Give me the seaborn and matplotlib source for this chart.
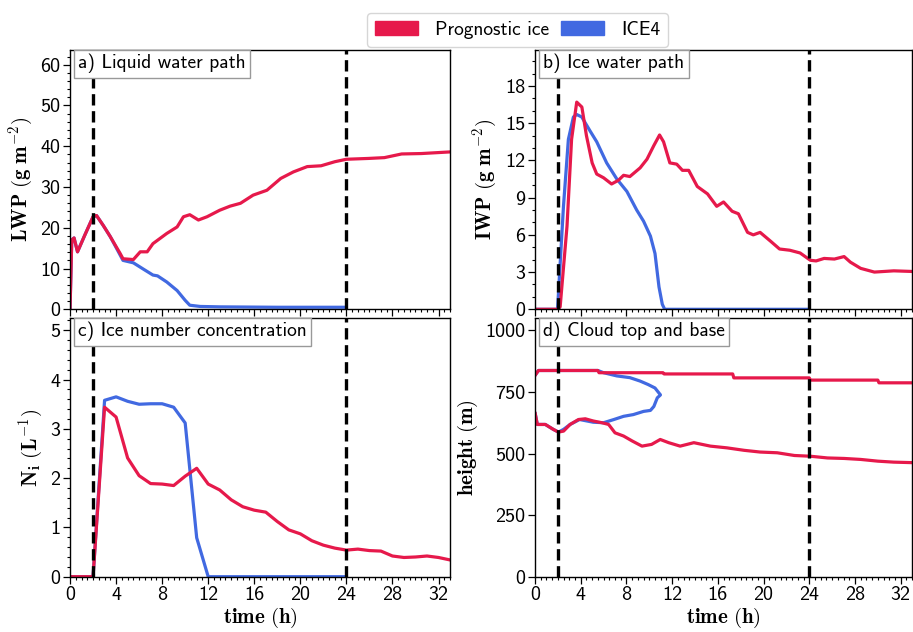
import matplotlib
matplotlib.use("Agg")
import numpy as np
import pandas as pd
import seaborn as sns
import matplotlib.pyplot as plt
from matplotlib.patches import Patch
from matplotlib.ticker import MultipleLocator

# ---------------------------------------------------------------- data
# Liquid water path (g m-2): common spin-up, then the two runs diverge
lwp_spin_t = [0.0, 0.15, 0.35, 0.65, 1.3, 2.0, 2.3, 2.9]
lwp_spin = [0.0, 17.0, 17.5, 14.1, 18.3, 22.7, 23.0, 20.5]
lwp_prog_t = [3.5, 4.35, 4.6, 5.5, 6.1, 6.7, 7.2, 8.4, 9.3, 9.85, 10.4, 11.15,
              11.9, 13.0, 13.9, 14.8, 15.9, 17.1, 18.3, 19.4, 20.6, 21.8, 23.0,
              24.0, 25.9, 27.3, 28.8, 30.5, 33.0]
lwp_prog = [17.8, 13.7, 12.4, 12.2, 14.1, 14.1, 16.1, 18.6, 20.2, 22.7, 23.2, 21.9,
            22.7, 24.3, 25.3, 26.0, 28.0, 29.2, 32.1, 33.7, 35.0, 35.2, 36.2,
            36.8, 37.0, 37.2, 38.1, 38.2, 38.6]
lwp_ice4_t = [3.5, 4.6, 5.5, 6.4, 7.2, 7.6, 8.4, 9.3, 10.0, 10.4, 11.3, 13.0, 18.0, 24.0]
lwp_ice4 = [17.8, 12.0, 11.4, 9.8, 8.4, 8.2, 6.7, 4.6, 2.2, 1.0, 0.7, 0.6, 0.5, 0.5]

# Ice water path (g m-2)
iwp_prog_t = [0, 2.0, 2.2, 2.8, 3.2, 3.65, 4.1, 4.5, 5.0, 5.4, 6.0, 6.7, 7.3, 7.75,
              8.3, 9.2, 9.8, 10.4, 10.9, 11.25, 11.8, 12.4, 12.9, 13.45, 14.2, 15.1,
              15.9, 16.5, 17.25, 17.8, 18.6, 19.1, 19.7, 20.6, 21.4, 22.3, 23.2, 24.1,
              24.6, 25.3, 26.2, 27.05, 27.6, 28.5, 29.7, 31.4, 33.0]
iwp_prog = [0, 0, 0.2, 6.7, 13.7, 16.7, 16.3, 14.0, 11.8, 10.9, 10.6, 10.1, 10.4, 10.8,
            10.7, 11.4, 12.1, 13.2, 14.05, 13.5, 11.8, 11.7, 11.2, 11.2, 9.9, 9.3,
            8.3, 8.65, 7.9, 7.7, 6.2, 6.0, 6.2, 5.5, 4.86, 4.76, 4.54, 3.95,
            3.9, 4.1, 4.05, 4.25, 3.8, 3.3, 3.0, 3.1, 3.05]
iwp_ice4_t = [0, 1.97, 2.49, 2.92, 3.36, 3.65, 4.09, 4.8, 5.4, 6.27, 7.16, 8.04, 8.9,
              9.5, 10.1, 10.5, 10.85, 11.14, 11.35, 24.0]
iwp_ice4 = [0, 0, 8.3, 13.7, 15.5, 15.7, 15.5, 14.4, 13.5, 11.8, 10.5, 9.5, 8.0,
            7.1, 5.9, 4.5, 1.8, 0.4, 0.0, 0.0]

# Ice number concentration (L-1), hourly output
ni_prog_t = list(range(0, 34))
ni_prog = [0, 0, 0, 3.44, 3.24, 2.41, 2.05, 1.89, 1.88, 1.85, 2.04, 2.2, 1.88, 1.76,
           1.56, 1.42, 1.35, 1.31, 1.12, 0.95, 0.87, 0.73, 0.64, 0.58, 0.54, 0.56,
           0.53, 0.52, 0.42, 0.39, 0.40, 0.42, 0.39, 0.34]
ni_ice4_t = list(range(0, 25))
ni_ice4 = [0, 0, 0, 3.58, 3.65, 3.56, 3.50, 3.51, 3.51, 3.44, 3.12, 0.79, 0,
           0, 0, 0, 0, 0, 0, 0, 0, 0, 0, 0, 0]

# Cloud top and base height (m)
top_prog_t = [0, 0.3, 5.5, 5.6, 11.2, 11.3, 17.3, 17.4, 24.0, 24.1, 30.0, 30.1, 33.0]
top_prog = [817, 837, 837, 828, 828, 823, 823, 807, 807, 798, 798, 787, 787]
base_prog_t = [0, 0.2, 0.9, 1.6, 2.05, 2.5, 3.07, 3.8, 4.4, 5.1, 5.85, 6.44, 7.0,
               7.75, 8.5, 9.36, 10.2, 10.96, 11.7, 12.7, 13.9, 15.35,
               16.8, 18.3, 19.7, 21.2, 22.7, 24.1, 25.6, 27.05, 28.5, 30.0,
               31.4, 33.0]
base_prog = [666, 618, 618, 598, 587, 591, 618, 638, 641, 632, 625, 618, 584,
             571, 551, 530, 537, 557, 544, 530, 544, 530,
             523, 513, 506, 503, 492, 489, 482, 480, 476, 469,
             465, 463]
top_ice4_t = [0, 0.3, 5.5, 6.0, 7.16, 8.3, 9.2, 9.9, 10.5, 10.96]
top_ice4 = [817, 837, 837, 828, 815, 808, 794, 780, 766, 739]
base_ice4_t = [0, 0.2, 0.9, 1.6, 2.05, 2.5, 3.07, 3.9, 5.1, 6.0, 6.9, 7.75, 8.6,
               9.5, 10.1, 10.4, 10.7, 10.96]
base_ice4 = [666, 618, 618, 598, 587, 598, 618, 638, 627, 625, 638, 651, 658,
             671, 675, 691, 726, 737]

events = [2, 24]
series_names = ["Prognostic ice", "ICE4"]
panel_titles = ["a) Liquid water path", "b) Ice water path",
                "c) Ice number concentration", "d) Cloud top and base"]

# ---------------------------------------------------------------- style
RED = "#E6194B"
BLUE = "#4169E1"

sns.set_theme(style="ticks")
plt.rcParams.update({
    "font.family": ["cmss10", "DejaVu Sans"],
    "mathtext.fontset": "cm",
    "axes.unicode_minus": False,
    "axes.edgecolor": "black",
    "axes.linewidth": 1.0,
    "text.color": "black",
    "axes.labelcolor": "black",
    "xtick.color": "black",
    "ytick.color": "black",
    "xtick.direction": "out",
    "ytick.direction": "out",
    "xtick.major.size": 5,
    "ytick.major.size": 5,
    "xtick.minor.size": 2.5,
    "ytick.minor.size": 2.5,
    "xtick.major.width": 0.9,
    "ytick.major.width": 0.9,
    "xtick.minor.width": 0.8,
    "ytick.minor.width": 0.8,
})

fig = plt.figure(figsize=(9.13, 6.32), dpi=100)
ax_a = fig.add_axes([0.0767, 0.5106, 0.4162, 0.4103])
ax_b = fig.add_axes([0.586, 0.5106, 0.413, 0.4103])
ax_c = fig.add_axes([0.0767, 0.0875, 0.4162, 0.4093])
ax_d = fig.add_axes([0.586, 0.0875, 0.413, 0.4093])

LW = 2.3


def line(ax, t, v, color):
    sns.lineplot(x=t, y=v, color=color, lw=LW, ax=ax, estimator=None,
                 sort=False, legend=False)


# a) LWP
line(ax_a, lwp_spin_t + lwp_ice4_t, lwp_spin + lwp_ice4, BLUE)
line(ax_a, lwp_spin_t + lwp_prog_t, lwp_spin + lwp_prog, RED)
# b) IWP
line(ax_b, iwp_ice4_t, iwp_ice4, BLUE)
line(ax_b, iwp_prog_t, iwp_prog, RED)
# c) Ni
line(ax_c, ni_ice4_t, ni_ice4, BLUE)
line(ax_c, ni_prog_t, ni_prog, RED)
# d) cloud top / base
line(ax_d, top_ice4_t, top_ice4, BLUE)
line(ax_d, base_ice4_t, base_ice4, BLUE)
line(ax_d, top_prog_t, top_prog, RED)
line(ax_d, base_prog_t, base_prog, RED)

settings = [
    (ax_a, (0, 63.6), 10, 2, r"$\mathbf{LWP\ (g\ m^{-2})}$"),
    (ax_b, (0, 20.9), 3, 1, r"$\mathbf{IWP\ (g\ m^{-2})}$"),
    (ax_c, (0, 5.25), 1, 0.2, r"$\mathbf{N_i\ (L^{-1})}$"),
    (ax_d, (0, 1050), 250, None, r"$\mathbf{height\ (m)}$"),
]

for (ax, ylim, major, minor, ylabel), title in zip(settings, panel_titles):
    for ev in events:
        ax.axvline(ev, color="black", ls=(0, (3.4, 1.7)), lw=2.4, zorder=5)
    ax.set_xlim(0, 33)
    ax.set_ylim(*ylim)
    ax.xaxis.set_major_locator(MultipleLocator(4))
    ax.xaxis.set_minor_locator(MultipleLocator(0.5))
    ax.yaxis.set_major_locator(MultipleLocator(major))
    if minor:
        ax.yaxis.set_minor_locator(MultipleLocator(minor))
    ax.tick_params(labelsize=14.5, pad=2)
    ax.set_ylabel(ylabel, fontsize=15, labelpad=4)
    ax.text(0.022, 0.985, title, transform=ax.transAxes, ha="left", va="top",
            fontsize=14, zorder=6,
            bbox=dict(boxstyle="square,pad=0.22", facecolor="white",
                      edgecolor="0.6", linewidth=1.0))

for ax in (ax_a, ax_b):
    ax.tick_params(labelbottom=False)
    ax.set_xlabel("")
for ax in (ax_c, ax_d):
    ax.set_xlabel(r"$\mathbf{time\ (h)}$", fontsize=15, labelpad=1)

handles = [Patch(facecolor=RED, edgecolor=RED, label=series_names[0]),
           Patch(facecolor=BLUE, edgecolor=BLUE, label=series_names[1])]
fig.legend(handles=handles, loc="center", bbox_to_anchor=(0.567, 0.953),
           ncol=2, fontsize=14, frameon=True, fancybox=True, edgecolor="0.8",
           handlelength=2.2, handleheight=0.8, handletextpad=0.9,
           columnspacing=0.6, borderpad=0.4)

fig.savefig("out.png", dpi=100)
